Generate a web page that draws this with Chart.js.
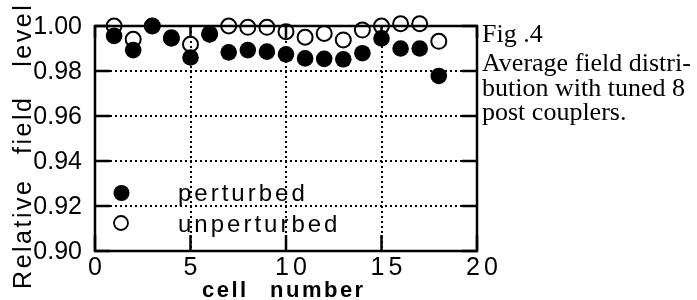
<!DOCTYPE html>
<html><head><meta charset="utf-8">
<script src="https://cdn.jsdelivr.net/npm/chart.js@4.4.1/dist/chart.umd.min.js"></script>
<style>
html,body{margin:0;padding:0;background:#fff;}
#wrap{position:relative;width:697px;height:300px;overflow:hidden;background:#fff;}
canvas{position:absolute;left:0;top:0;}
.cap{position:absolute;left:482px;font-family:'Liberation Serif','Times New Roman',serif;font-size:26px;line-height:26px;white-space:nowrap;color:#000;}
</style></head><body>
<div id="wrap"><canvas id="c" width="697" height="300"></canvas></div>
<script>
const cells = [1,2,3,4,5,6,7,8,9,10,11,12,13,14,15,16,17,18];
const perturbed = [0.9956,0.9893,1.0000,0.9945,0.9860,0.9963,0.9883,0.9893,0.9886,0.9874,0.9856,0.9854,0.9852,0.9879,0.9945,0.9900,0.9900,0.9778];
const unperturbed = [1.0000,0.9941,1.0000,0.9948,0.9919,0.9965,1.0000,0.9994,0.9994,0.9975,0.9950,0.9967,0.9938,0.9982,1.0000,1.0010,1.0010,0.9932];
const xTicks = [0,5,10,15,20];
const xTickLabels = ['0','5','10','15','20'];
const yTicks = [0.90,0.92,0.94,0.96,0.98,1.00];
const yTickLabels = ['0.90','0.92','0.94','0.96','0.98','1.00'];
const legendLabels = ['perturbed','unperturbed'];
const yTitleWords = ['Relative','field','level'];
const xTitleWords = ['cell','number'];
const captionLines = ['Fig .4','Average field distri-','bution with tuned 8','post couplers.'];

// caption as HTML text
const capTops = [21,50,75,99];
const wrap = document.getElementById('wrap');
captionLines.forEach((t,i)=>{
  const d=document.createElement('div'); d.className='cap'; d.style.top=capTops[i]+'px'; d.textContent=t; wrap.appendChild(d);
});

function line(ctx,x1,y1,x2,y2){ctx.beginPath();ctx.moveTo(x1,y1);ctx.lineTo(x2,y2);ctx.stroke();}

const framePlugin = {
  id:'frame',
  beforeDatasetsDraw(chart){
    const {ctx, chartArea:a, scales:{x,y}} = chart;
    ctx.save();
    ctx.strokeStyle='#000';
    // dotted grid
    ctx.lineWidth=2; ctx.setLineDash([2,3]);
    yTicks.forEach(v=>{ if(v>y.min+1e-9 && v<y.max-1e-9){ const p=Math.round(y.getPixelForValue(v)); line(ctx,a.left,p,a.right,p);} });
    xTicks.forEach(v=>{ if(v>x.min+1e-9 && v<x.max-1e-9){ const p=Math.round(x.getPixelForValue(v)); line(ctx,p,a.top,p,a.bottom);} });
    ctx.setLineDash([]);
    // inward ticks
    ctx.lineWidth=2.5;
    yTicks.forEach(v=>{ const p=y.getPixelForValue(v); line(ctx,a.left,p,a.left+15,p); line(ctx,a.right-15,p,a.right,p); });
    xTicks.forEach(v=>{ const p=x.getPixelForValue(v); line(ctx,p,a.bottom,p,a.bottom-16); line(ctx,p,a.top,p,a.top+12); });
    // frame
    ctx.lineWidth=2.5;
    ctx.strokeRect(a.left,a.top,a.right-a.left,a.bottom-a.top);
    // tick labels
    ctx.fillStyle='#000';
    ctx.font='25px "Liberation Sans", Arial, sans-serif';
    ctx.textAlign='right'; ctx.textBaseline='middle';
    yTicks.forEach((v,i)=>{ ctx.fillText(yTickLabels[i], a.left-13, y.getPixelForValue(v)+1); });
    ctx.textAlign='left'; ctx.textBaseline='alphabetic';
    ctx.letterSpacing='4px';
    xTicks.forEach((v,i)=>{
      const t=xTickLabels[i]; const w=ctx.measureText(t).width-4;
      const off = t.length>1?5:0;
      ctx.fillText(t, x.getPixelForValue(v)-w/2+off, a.bottom+24);
    });
    // y title
    ctx.font='25px "Liberation Sans", Arial, sans-serif';
    ctx.letterSpacing='2.5px';
    const yCenters=[235,126,36];
    yTitleWords.forEach((t,i)=>{
      const w=ctx.measureText(t).width-2.5;
      ctx.save(); ctx.translate(31,yCenters[i]); ctx.rotate(-Math.PI/2);
      ctx.fillText(t,-w/2,0); ctx.restore();
    });
    // x title
    ctx.font='bold 22px "Liberation Sans", Arial, sans-serif';
    ctx.letterSpacing='2.5px';
    const xStarts=[202,270];
    xTitleWords.forEach((t,i)=>{ ctx.fillText(t,xStarts[i],297); });
    ctx.restore();
  },
  afterDatasetsDraw(chart){
    const {ctx} = chart;
    ctx.save();
    ctx.fillStyle='#000'; ctx.strokeStyle='#000';
    ctx.beginPath(); ctx.arc(121.5,193,8,0,Math.PI*2); ctx.fill();
    ctx.lineWidth=1.8; ctx.beginPath(); ctx.arc(121,223,7,0,Math.PI*2); ctx.stroke();
    ctx.font='24px "Liberation Sans", Arial, sans-serif';
    ctx.letterSpacing='3px';
    ctx.textAlign='left'; ctx.textBaseline='alphabetic';
    ctx.fillText(legendLabels[0],178,201);
    ctx.fillText(legendLabels[1],178,232);
    ctx.restore();
  }
};

new Chart(document.getElementById('c'),{
  type:'scatter',
  data:{datasets:[
    {label:legendLabels[0], data:cells.map((c,i)=>({x:c,y:perturbed[i]})), pointRadius:8.3, pointBackgroundColor:'#000', pointBorderColor:'#000', pointBorderWidth:0, showLine:false, clip:false},
    {label:legendLabels[1], data:cells.map((c,i)=>({x:c,y:unperturbed[i]})), pointRadius:7.5, pointBackgroundColor:'rgba(0,0,0,0)', pointBorderColor:'#000', pointBorderWidth:2, showLine:false, clip:false}
  ]},
  options:{
    responsive:false, animation:false, events:[],
    layout:{padding:{left:95,top:26,right:220,bottom:49}},
    scales:{
      x:{type:'linear',min:0,max:20,display:false},
      y:{type:'linear',min:0.90,max:1.00,display:false}
    },
    plugins:{legend:{display:false},tooltip:{enabled:false}}
  },
  plugins:[framePlugin]
});
</script>
</body></html>
